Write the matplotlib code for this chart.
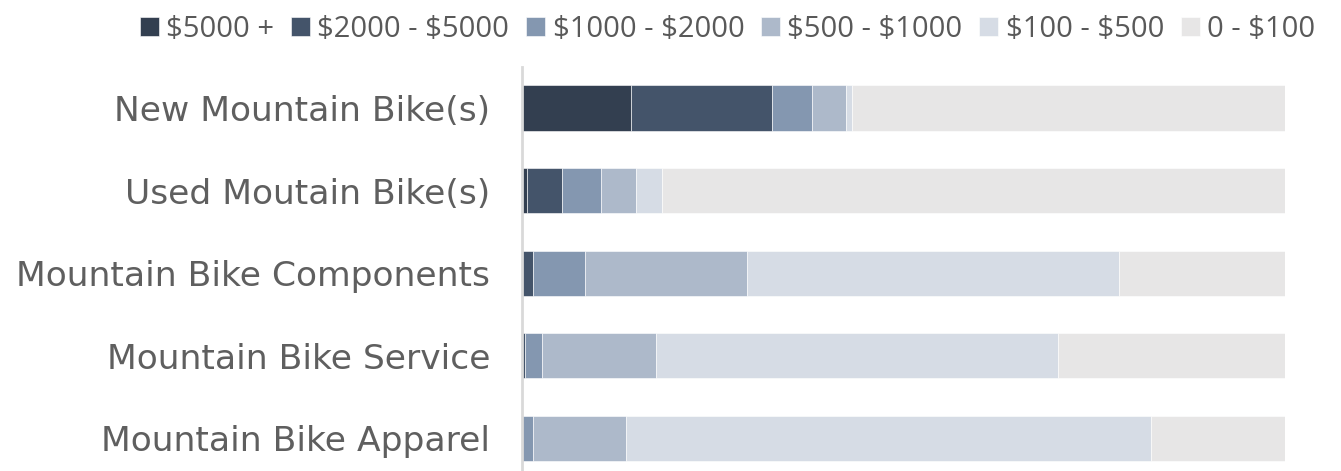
import matplotlib.pyplot as plt
import numpy as np

# Share of respondents (%) by spend bracket
categories = ["New Mountain Bike(s)", "Used Moutain Bike(s)", "Mountain Bike Components",
              "Mountain Bike Service", "Mountain Bike Apparel"]
brackets = [r"\$5000 +", r"\$2000 - \$5000", r"\$1000 - \$2000", r"\$500 - \$1000",
            r"\$100 - \$500", r"0 - \$100"]

over_5000 = [14.3, 0.7, 0.0, 0.0, 0.0]
b2000_5000 = [18.5, 4.6, 1.4, 0.4, 0.0]
b1000_2000 = [5.2, 5.1, 6.8, 2.2, 1.4]
b500_1000 = [4.5, 4.5, 21.3, 15.0, 12.2]
b100_500 = [0.8, 3.4, 48.7, 52.6, 68.8]
under_100 = [56.7, 81.7, 21.8, 29.8, 17.6]

colors = ["#333f50", "#44546a", "#8497b0", "#adb9ca", "#d6dce5", "#e7e6e6"]

series = [over_5000, b2000_5000, b1000_2000, b500_1000, b100_500, under_100]

fig = plt.figure(figsize=(13.41, 4.71), dpi=100)
ax = fig.add_axes([522 / 1341, 1 - 479.7 / 471, (1285 - 522) / 1341, 413 / 471])

y = np.arange(len(categories))
left = np.zeros(len(categories))
for vals, lab, col in zip(series, brackets, colors):
    vals = np.array(vals)
    ax.barh(y, vals, left=left, height=0.545, color=col, label=lab,
            edgecolor="white", linewidth=0.4)
    left += vals

ax.set_xlim(0, 100)
ax.set_ylim(len(categories) - 0.5, -0.5)
ax.set_yticks(y)
ax.set_yticklabels(categories, fontsize=24.8, color="#5f5f5f", family="DejaVu Sans")
ax.tick_params(axis="y", length=0, pad=23)
ax.set_xticks([])
for s in ["top", "right", "bottom"]:
    ax.spines[s].set_visible(False)
ax.spines["left"].set_color("#d9d9d9")
ax.spines["left"].set_linewidth(2)

fig.legend(loc="upper right", bbox_to_anchor=(1330 / 1341, 1.0), ncol=6, frameon=False,
           prop={"family": "Open Sans", "size": 21}, labelcolor="#595959",
           handlelength=0.65, handleheight=0.63, handletextpad=0.25, columnspacing=0.58,
           borderaxespad=0.1)

fig.savefig("out.png", dpi=100)
